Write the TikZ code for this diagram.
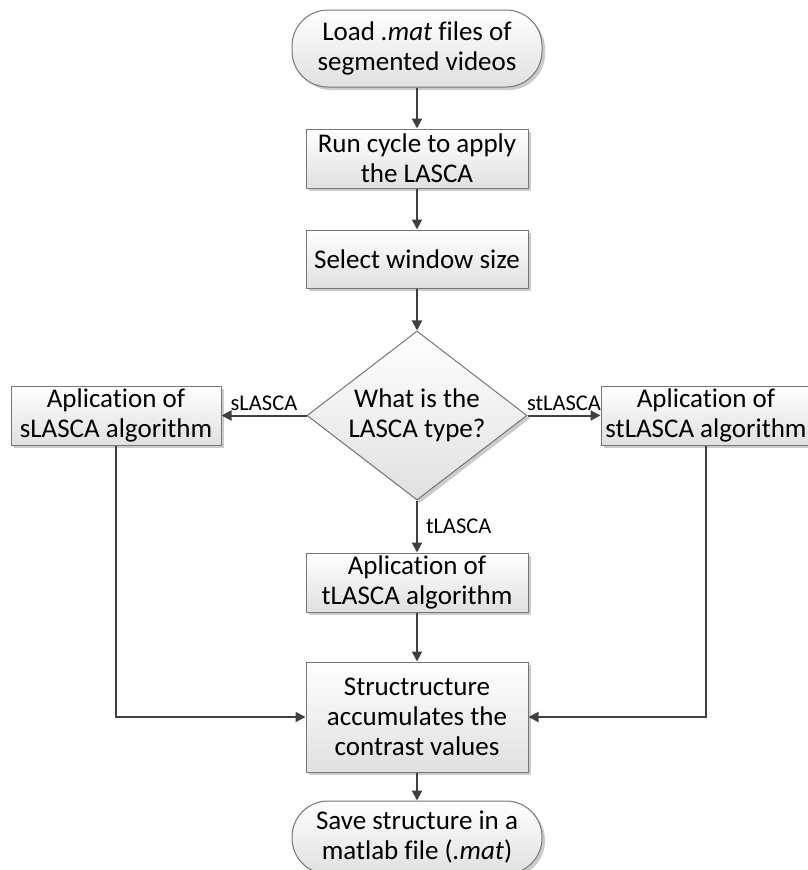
\documentclass[tikz,border=0pt]{standalone}
\usepackage{fontspec}
\setmainfont{Carlito}[Ligatures=NoCommon]
\usepackage{tikz}
\usetikzlibrary{positioning,arrows.meta,shapes.geometric,shadows}
\definecolor{cLine}{HTML}{404040}
\definecolor{cEdge}{HTML}{767676}
\definecolor{cShade}{HTML}{E0E0E0}
\definecolor{cShadow}{HTML}{CBCBCB}
\tikzset{
  box/.style={draw=cEdge, line width=1pt, top color=white, bottom color=cShade,
              drop shadow={shadow xshift=3pt, shadow yshift=-3pt, fill=cShadow, opacity=1},
              align=center, inner sep=0pt, minimum width=222pt, minimum height=59pt,
              font=\fontsize{27}{30}\selectfont},
  term/.style={box, rounded corners=36pt, minimum width=250pt},
  side/.style={box, minimum width=210pt},
  dec/.style={box, diamond, aspect=1.3, minimum width=220pt, minimum height=169pt},
  ar/.style={-{Triangle[length=10pt,width=10pt]}, cLine, line width=2pt},
  tag/.style={font=\fontsize{22.5}{24}\selectfont, text=black, inner sep=4pt}
}
\begin{document}
\begin{tikzpicture}[x=1pt, y=1pt, node distance=41pt]
\useasboundingbox (0,0) rectangle (808,-870);
\node[term, minimum height=77pt] (load) at (417,-48.5) {Load \textit{.mat} files of\\segmented videos};
\node[box, below=of load] (run) {Run cycle to apply\\the LASCA};
\node[box, below=of run, minimum height=58pt] (win) {Select window size};
\node[dec, below=42pt of win] (type) {What is the\\LASCA type?};
\node[side, left=85pt of type] (sl) {Aplication of\\sLASCA algorithm};
\node[side, right=73pt of type] (stl) {Aplication of\\stLASCA algorithm};
\node[box, below=52pt of type] (tl) {Aplication of\\tLASCA algorithm};
\node[box, below=49pt of tl, minimum height=110pt] (acc) {Structructure\\accumulates the\\contrast values};
\node[term, below=28pt of acc, minimum height=73pt] (save) {Save structure in a\\matlab file (\textit{.mat})};
\draw[ar](load)--(run);\draw[ar](run)--(win);\draw[ar](win)--(type);
\draw[ar](type)--node[tag,above]{sLASCA}(sl);
\draw[ar](type)--node[tag,above]{stLASCA}(stl);
\draw[ar](type)--node[tag,right=4pt]{tLASCA}(tl);
\draw[ar](tl)--(acc);\draw[ar](acc)--(save);
\draw[ar](sl)|-(acc);\draw[ar](stl)|-(acc);
\end{tikzpicture}
\end{document}
